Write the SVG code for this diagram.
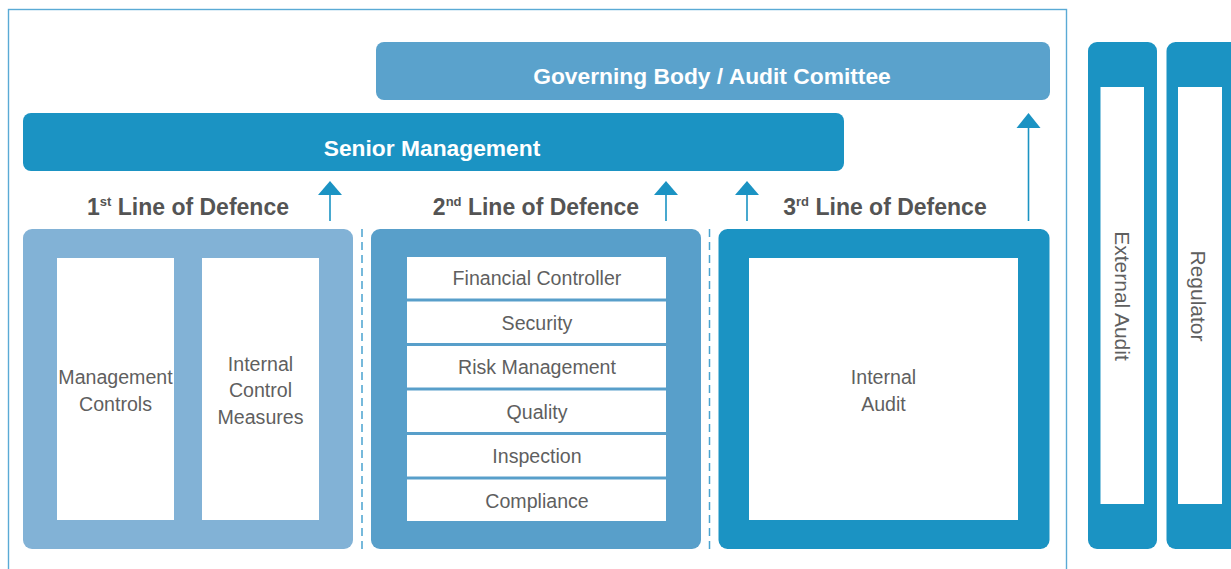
<svg xmlns="http://www.w3.org/2000/svg" width="1231" height="569" viewBox="0 0 1231 569">
  <style>
    .bar-text { font-family: "Liberation Sans", Arial, sans-serif; font-weight: bold; font-size: 22.8px; fill: #ffffff; text-anchor: middle; }
    .line-title { font-family: "Liberation Sans", Arial, sans-serif; font-weight: bold; font-size: 23px; fill: #545454; text-anchor: middle; }
    .sup { font-size: 13px; }
    .item { font-family: "Liberation Sans", Arial, sans-serif; font-size: 19.6px; fill: #5f5f5f; text-anchor: middle; }
    .side { font-size: 21px; }
    .cell { fill: #ffffff; }
    .divider { stroke: #4aa3d0; stroke-width: 1.5; stroke-dasharray: 8 5; fill: none; }
    .link { stroke: #1b93c3; stroke-width: 1.6; fill: none; }
    .head { fill: #1b93c3; }
  </style>

  <rect width="1231" height="569" fill="#ffffff"/>

  <!-- organisation boundary -->
  <rect x="8.5" y="9.5" width="1058" height="620" fill="none" stroke="#5aaad5" stroke-width="1.4"/>

  <g id="governing-body">
    <rect x="376" y="42" width="674" height="58" rx="8" fill="#5aa2cc"/>
    <text class="bar-text" x="712" y="84">Governing Body / Audit Comittee</text>
  </g>

  <g id="senior-management">
    <rect x="23" y="113" width="821" height="58" rx="8" fill="#1b93c3"/>
    <text class="bar-text" x="432" y="156">Senior Management</text>
  </g>

  <g id="first-line">
    <text class="line-title" x="188" y="215">1<tspan class="sup" dy="-9">st</tspan><tspan dy="9"> Line of Defence</tspan></text>
    <rect x="23" y="229" width="330" height="320" rx="9" fill="#82b2d6"/>
    <rect class="cell" x="57" y="258" width="117" height="262"/>
    <rect class="cell" x="202" y="258" width="117" height="262"/>
    <text class="item" x="115.5" y="384">Management</text>
    <text class="item" x="115.5" y="411">Controls</text>
    <text class="item" x="260.5" y="371">Internal</text>
    <text class="item" x="260.5" y="397">Control</text>
    <text class="item" x="260.5" y="424">Measures</text>
  </g>

  <g id="second-line">
    <text class="line-title" x="536" y="215">2<tspan class="sup" dy="-9">nd</tspan><tspan dy="9"> Line of Defence</tspan></text>
    <rect x="371" y="229" width="330" height="320" rx="9" fill="#589fca"/>
    <rect class="cell" x="407" y="257" width="259" height="41.5"/>
    <rect class="cell" x="407" y="301.5" width="259" height="41.5"/>
    <rect class="cell" x="407" y="346" width="259" height="41.5"/>
    <rect class="cell" x="407" y="390.5" width="259" height="41.5"/>
    <rect class="cell" x="407" y="435" width="259" height="41.5"/>
    <rect class="cell" x="407" y="479.5" width="259" height="41.5"/>
    <text class="item" x="537" y="285">Financial Controller</text>
    <text class="item" x="537" y="330">Security</text>
    <text class="item" x="537" y="374">Risk Management</text>
    <text class="item" x="537" y="419">Quality</text>
    <text class="item" x="537" y="463">Inspection</text>
    <text class="item" x="537" y="508">Compliance</text>
  </g>

  <g id="third-line">
    <text class="line-title" x="885" y="215">3<tspan class="sup" dy="-9">rd</tspan><tspan dy="9"> Line of Defence</tspan></text>
    <rect x="718.5" y="229" width="331" height="320" rx="9" fill="#1b93c3"/>
    <rect class="cell" x="749" y="258" width="269" height="262"/>
    <text class="item" x="883.5" y="384">Internal</text>
    <text class="item" x="883.5" y="411">Audit</text>
  </g>

  <g id="external-audit">
    <rect x="1088" y="42" width="69" height="507" rx="9" fill="#1b93c3"/>
    <rect class="cell" x="1100.5" y="87" width="43.5" height="417"/>
    <text class="item side" x="0" y="0" dominant-baseline="central" transform="translate(1122.5 296) rotate(90)">External Audit</text>
  </g>

  <g id="regulator">
    <rect x="1166.5" y="42" width="80" height="507" rx="9" fill="#1b93c3"/>
    <rect class="cell" x="1178" y="87" width="44" height="417"/>
    <text class="item side" x="0" y="0" dominant-baseline="central" transform="translate(1198 296) rotate(90)">Regulator</text>
  </g>

  <g id="connectors">
    <line class="divider" x1="362" y1="229" x2="362" y2="549"/>
    <line class="divider" x1="709.5" y1="229" x2="709.5" y2="549"/>

    <line class="link" x1="330" y1="221" x2="330" y2="194"/>
    <polygon class="head" points="318,195 342,195 330,181"/>
    <line class="link" x1="666" y1="221" x2="666" y2="194"/>
    <polygon class="head" points="654,195 678,195 666,181"/>
    <line class="link" x1="747" y1="221" x2="747" y2="194"/>
    <polygon class="head" points="735,195 759,195 747,181"/>
    <line class="link" x1="1028.5" y1="221" x2="1028.5" y2="127"/>
    <polygon class="head" points="1016.5,128 1040.5,128 1028.5,113"/>
  </g>
</svg>
